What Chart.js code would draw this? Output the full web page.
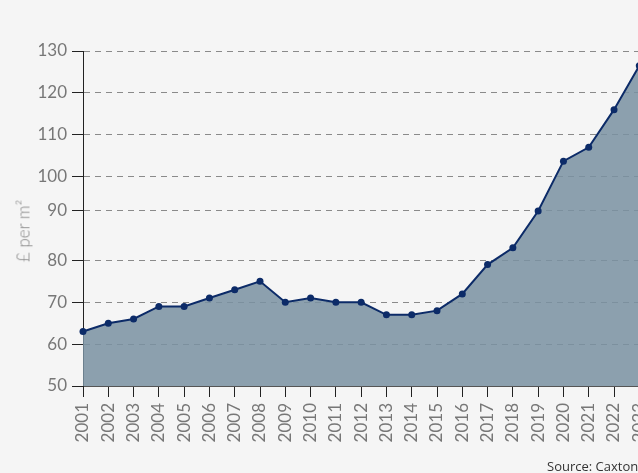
<!DOCTYPE html>
<html>
<head>
<meta charset="utf-8">
<script src="https://cdn.jsdelivr.net/npm/chart.js@4/dist/chart.umd.min.js"></script>
<style>
  html, body { margin: 0; padding: 0; background: #f5f5f5; overflow: hidden; }
  #wrap { position: relative; width: 638px; height: 473px; overflow: hidden; }
  #source { position: absolute; left: 547px; top: 457px; font: 13px "Open Sans", Lato, sans-serif; color: #333; white-space: nowrap; }
  #ytitle { position: absolute; left: 23px; top: 231px; transform: translate(-50%, -50%) rotate(-90deg);
    font-family: Lato, "Open Sans", sans-serif; font-size: 17px; font-weight: 300; color: #858585; white-space: nowrap; }
</style>
</head>
<body>
<div id="wrap">
  <canvas id="myChart" width="700" height="473"></canvas>
  <div id="ytitle">£ per m²</div>
  <div id="source">Source: Caxton</div>
</div>
<script>
// years along the x axis
var years = ['2001', '2002', '2003', '2004', '2005', '2006', '2007', '2008', '2009', '2010', '2011', '2012',
  '2013', '2014', '2015', '2016', '2017', '2018', '2019', '2020', '2021', '2022', '2023'];
// £ per m2
var price = [63, 65, 66, 69, 69, 71, 73, 75, 70, 71, 70, 70,
  67, 67, 68, 72, 79, 83, 91.8, 103.7, 107, 116, 126.5];
// y ticks as they sit in the picture (the "90" line is drawn a bit high)
var yTickValues = [50, 60, 70, 80, 91.8, 100, 110, 120, 130];
var yTickLabels = ['50', '60', '70', '80', '90', '100', '110', '120', '130'];

var font = 'Lato, "Open Sans", sans-serif';

var ctx = document.getElementById('myChart').getContext('2d');
var chart = new Chart(ctx, {
  type: 'line',
  data: {
    labels: years,
    datasets: [{
      data: price,
      borderColor: '#0c2b68',
      borderWidth: 2,
      backgroundColor: 'rgba(121, 145, 161, 0.85)',
      fill: 'origin',
      pointRadius: 3.5,
      pointBackgroundColor: '#0c2b68',
      pointBorderColor: '#0c2b68',
      pointBorderWidth: 0,
      tension: 0
    }]
  },
  options: {
    responsive: false,
    animation: false,
    layout: { padding: { top: 51, right: 60.7, bottom: 0, left: 0 } },
    plugins: {
      legend: { display: false },
      tooltip: { enabled: false }
    },
    scales: {
      x: {
        offset: false,
        grid: { drawOnChartArea: false, drawTicks: true, tickLength: 11, color: '#222' },
        border: { display: true, color: '#555', width: 1 },
        ticks: {
          autoSkip: false, minRotation: 90, maxRotation: 90, padding: 6,
          color: '#777', font: { family: font, size: 17 }
        },
        afterFit: function (scale) { scale.height = 87; }
      },
      y: {
        min: 50,
        max: 130,
        afterBuildTicks: function (scale) {
          scale.ticks = yTickValues.map(function (v) { return { value: v }; });
        },
        grid: { color: '#8a8a8a', tickColor: '#222', tickLength: 11, lineWidth: 1 },
        border: { display: true, color: '#222', width: 1, dash: [6, 5] },
        ticks: {
          padding: 5, color: '#777', font: { family: font, size: 17 },
          callback: function (v, i) { return yTickLabels[i]; }
        },
        afterFit: function (scale) { scale.width = 83; }
      }
    }
  }
});
</script>
</body>
</html>
